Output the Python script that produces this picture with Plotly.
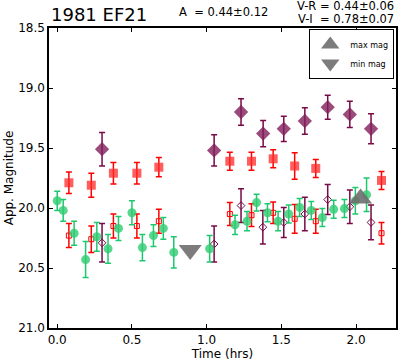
import plotly.graph_objects as go

# ---- data ----
green_t = [0.0, 0.04, 0.113, 0.19, 0.265, 0.34, 0.41, 0.50, 0.57, 0.644, 0.71, 0.78, 1.02,
           1.19, 1.27, 1.334, 1.407, 1.478, 1.549, 1.622, 1.70, 1.774, 1.85, 1.922, 1.995, 2.07]
green_m = [19.94, 20.02, 20.21, 20.43, 20.24, 20.34, 20.17, 20.04, 20.33, 20.23, 20.17, 20.37, 20.34,
           20.14, 20.11, 19.955, 20.04, 20.11, 20.05, 19.995, 20.02, 20.08, 20.01, 20.005, 19.94, 19.89]
green_e = [0.08, 0.09, 0.10, 0.15, 0.12, 0.12, 0.10, 0.10, 0.11, 0.09, 0.09, 0.13, 0.11,
           0.08, 0.08, 0.07, 0.075, 0.08, 0.075, 0.075, 0.075, 0.075, 0.075, 0.075, 0.11, 0.14]

redf_t = [0.078, 0.228, 0.376, 0.533, 0.68, 1.155, 1.30, 1.445, 1.589, 1.73, 2.17]
redf_m = [19.79, 19.81, 19.71, 19.71, 19.66, 19.61, 19.61, 19.59, 19.65, 19.67, 19.77]
redf_e = [0.09, 0.10, 0.09, 0.09, 0.08, 0.075, 0.075, 0.075, 0.11, 0.075, 0.075]

redo_t = [0.078, 0.228, 0.376, 0.533, 0.68, 1.155, 1.30, 1.445, 1.589, 1.73, 2.17]
redo_m = [20.23, 20.26, 20.15, 20.15, 20.11, 20.05, 20.06, 20.04, 20.09, 20.11, 20.21]
redo_e = [0.10, 0.11, 0.10, 0.10, 0.10, 0.095, 0.095, 0.09, 0.12, 0.10, 0.09]

purf_t = [0.30, 1.05, 1.23, 1.378, 1.516, 1.657, 1.81, 1.958, 2.10]
purf_m = [19.51, 19.52, 19.20, 19.38, 19.34, 19.275, 19.16, 19.22, 19.34]
purf_e = [0.14, 0.13, 0.11, 0.11, 0.105, 0.11, 0.10, 0.11, 0.125]

puro_t = [0.30, 1.05, 1.23, 1.376, 1.516, 1.657, 1.81, 1.958, 2.10]
puro_m = [20.29, 20.30, 19.98, 20.16, 20.12, 20.05, 19.93, 19.99, 20.12]
puro_e = [0.16, 0.15, 0.14, 0.14, 0.125, 0.14, 0.125, 0.14, 0.145]

max_t = [2.03]
max_m = [19.92]
min_t = [0.89]
min_m = [20.35]

x_ticks = [0.0, 0.5, 1.0, 1.5, 2.0]
y_ticks = [18.5, 19.0, 19.5, 20.0, 20.5, 21.0]

RED = "rgba(255,0,0,1)"
RED_F = "rgba(255,40,40,0.75)"
GREEN = "rgba(30,200,110,1)"
GREEN_F = "rgba(46,204,113,0.8)"
PUR = "rgba(120,10,70,1)"
PUR_F = "rgba(130,30,90,0.8)"
GRAY = "rgba(110,110,110,0.9)"

fig = go.Figure()

def add(t, m, e, symbol, size, fill, line_col, err_col, lw=0):
    fig.add_trace(go.Scatter(
        x=t, y=m, mode="markers", showlegend=False,
        marker=dict(symbol=symbol, size=size, color=fill, line=dict(color=line_col, width=lw)),
        error_y=dict(type="data", array=e, visible=True, color=err_col, thickness=1.5, width=3),
    ))

add(redf_t, redf_m, redf_e, "square", 9, RED_F, RED_F, RED)
add(redo_t, redo_m, redo_e, "square-open", 5, RED, RED, RED, 1)
add(purf_t, purf_m, purf_e, "diamond", 11, PUR_F, PUR_F, PUR)
add(puro_t, puro_m, puro_e, "diamond-open", 6, PUR, PUR, PUR, 1)
add(green_t, green_m, green_e, "circle", 9, GREEN_F, GREEN_F, GREEN)

fig.add_trace(go.Scatter(x=max_t, y=max_m, mode="markers", name="max mag",
                         marker=dict(symbol="triangle-up", size=20, color=GRAY)))
fig.add_trace(go.Scatter(x=min_t, y=min_m, mode="markers", name="min mag",
                         marker=dict(symbol="triangle-down", size=20, color=GRAY)))

axis_common = dict(showgrid=False, zeroline=False, showline=True, linecolor="black", linewidth=1.5,
                   mirror="ticks", ticks="inside", ticklen=4, tickcolor="black",
                   tickfont=dict(size=12, color="black"))

fig.update_layout(
    width=400, height=362,
    margin=dict(l=49, r=2, t=28, b=34),
    paper_bgcolor="white", plot_bgcolor="white",
    font=dict(family="DejaVu Sans", color="black"),
    xaxis=dict(range=[-0.055, 2.267], tickvals=x_ticks, ticktext=[f"{v:.1f}" for v in x_ticks],
               title=dict(text="Time (hrs)", font=dict(size=12), standoff=2), **axis_common),
    yaxis=dict(range=[21.0, 18.5], tickvals=y_ticks, ticktext=[f"{v:.1f}" for v in y_ticks],
               title=dict(text="App. Magnitude", font=dict(size=12), standoff=2), **axis_common),
    legend=dict(x=0.995, y=0.997, xanchor="right", yanchor="top", bordercolor="black", borderwidth=1,
                font=dict(size=8), bgcolor="white", itemwidth=30, tracegroupgap=0),
    annotations=[
        dict(text="1981 EF21", x=0, y=1, xref="paper", yref="paper", xanchor="left", yanchor="bottom",
             yshift=1, showarrow=False, font=dict(size=18)),
        dict(text="A  = 0.44±0.12", x=0.37, y=1, xref="paper", yref="paper", xanchor="left", yanchor="bottom",
             yshift=7, showarrow=False, font=dict(size=11.5)),
        dict(text="V-R = 0.44±0.06", x=1, y=1, xref="paper", yref="paper", xanchor="right", yanchor="bottom",
             yshift=13, showarrow=False, font=dict(size=11.5)),
        dict(text="V-I  = 0.78±0.07", x=1, y=1, xref="paper", yref="paper", xanchor="right", yanchor="bottom",
             yshift=0, showarrow=False, font=dict(size=11.5)),
    ],
)

fig.write_html("out.html", config={"displayModeBar": False},
               post_script="document.body.style.margin='0';")
